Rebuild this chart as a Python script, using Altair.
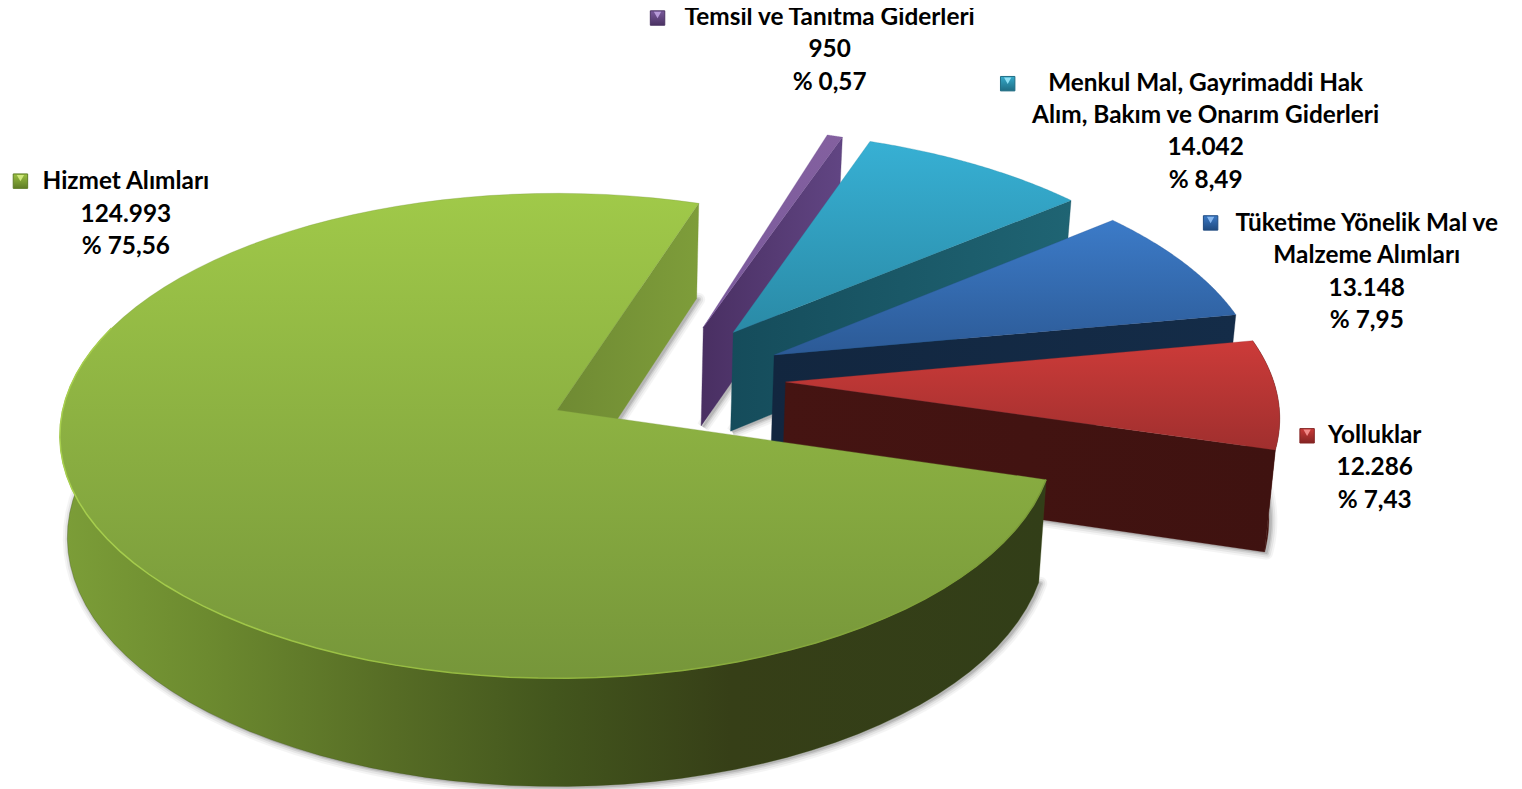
import math
import altair as alt
import pandas as pd

# ---- data (pie order, clockwise from the rotated start) ----
categories = ["Temsil ve Tanıtma Giderleri", "Menkul Mal, Gayrimaddi Hak Alım, Bakım ve Onarım Giderleri",
              "Tüketime Yönelik Mal ve Malzeme Alımları", "Yolluklar", "Hizmet Alımları"]
values = [950, 14042, 13148, 12286, 124993]
value_labels = ["950", "14.042", "13.148", "12.286", "124.993"]
percent_labels = ["% 0,57", "% 8,49", "% 7,95", "% 7,43", "% 75,56"]
label_lines = [
    ["Temsil ve Tanıtma Giderleri"],
    ["Menkul Mal, Gayrimaddi Hak", "Alım, Bakım ve Onarım Giderleri"],
    ["Tüketime Yönelik Mal ve", "Malzeme Alımları"],
    ["Yolluklar"],
    ["Hizmet Alımları"],
]

# ---- style / layout ----
explode = [(0.307, -0.358), (0.369, -0.335), (0.45, -0.235), (0.468, -0.118), (0.0, 0.0)]
top_colors = [("#83609f", "#7a5a9c"), ("#37b0d4", "#2a8aa6"), ("#3c7bc8", "#2c5a96"),
              ("#cc3b39", "#a02f2e"), ("#a0c949", "#76963a")]
wall_colors = [("#492f62", "#614583"), ("#154c5b", "#1f6473"), ("#12263f", "#142c48"),
               ("#451412", "#3f1210"), ("#6f8a33", "#7e9d3a")]
key_colors = [("#7a5a9c", "#4b3263", "#b79ad8"), ("#35a9c9", "#1f6d84", "#8fe0f4"),
              ("#3a78c4", "#1f4a80", "#86b6ee"), ("#c93a38", "#842423", "#f08a88"),
              ("#9ac040", "#5f7d26", "#cfe87c")]
label_pos = [(834, 16), (1212, 82), (1374, 223), (1382, 436), (126.5, 181)]
key_pos = [(661, 16), (1013, 82), (1217, 222), (1314, 436), (20.5, 180)]
START_DEG = 18.4
CX, CY, C, A, B = 560.0, 410.0, 497.0, 241.0, 0.1066
W, H = 1514, 781
FONT = "Lato"
FS = 24.5
LH = 32.6

xs = alt.X("x:Q", axis=None, scale=alt.Scale(domain=[8, 8 + W], nice=False, zero=False))
ys = alt.Y("y:Q", axis=None, scale=alt.Scale(domain=[8 + H, 8], nice=False, zero=False))


def project(px, py, z=0):
    w = 1 - B * py
    sx = CX + C * px / w * (1 - 0.015 * z)
    sy = CY + A * py / w + z * 101.5 * w ** -0.62
    return round(sx, 2), round(sy, 2)


def arc(ex, a0, a1, z, n=90):
    pts = []
    for k in range(n + 1):
        t = math.radians(a0 + (a1 - a0) * k / n)
        pts.append(project(ex[0] + math.sin(t), ex[1] - math.cos(t), z))
    return pts


def grad(c0, c1, vertical=True):
    return alt.Gradient(gradient="linear", x1=0, y1=0, x2=0 if vertical else 1, y2=1 if vertical else 0,
                        stops=[alt.GradientStop(color=c0, offset=0), alt.GradientStop(color=c1, offset=1)])


def multi(stops):
    return alt.Gradient(gradient="linear", x1=0, y1=0, x2=1, y2=0,
                        stops=[alt.GradientStop(color=c, offset=o) for o, c in stops])


def poly(pts, **mark):
    pts = list(pts) + [pts[0]]
    df = pd.DataFrame({"i": range(len(pts)), "x": [p[0] for p in pts], "y": [p[1] for p in pts]})
    return alt.Chart(df).mark_line(**mark).encode(x=xs, y=ys, order="i:Q")


total = sum(values)
spans = []
acc = START_DEG
for v in values:
    spans.append((acc, acc + v / total * 360))
    acc += v / total * 360

layers = []

# soft base shadows
for ex, (a0, a1) in zip(explode, spans):
    bottom = [project(ex[0], ex[1], 1)] + arc(ex, a0, a1, 1)
    bottom = [(x + 2, y + 1) for x, y in bottom]
    for sw, op in [(13, 0.06), (9, 0.09), (5, 0.14), (2, 0.2)]:
        layers.append(poly(bottom, fill="#555555", stroke="#555555", strokeWidth=sw, opacity=op,
                           strokeJoin="round"))

# slices, back to front
for idx, (ex, (a0, a1)) in enumerate(zip(explode, spans)):
    apex_t, apex_b = project(ex[0], ex[1], 0), project(ex[0], ex[1], 1)
    top = arc(ex, a0, a1, 0)
    low = arc(ex, a0, a1, 1)
    if idx == 4:
        # edge wall at the end of the big slice, visible from the right
        layers.append(poly([apex_t, top[-1], low[-1], apex_b],
                           fill=grad(*wall_colors[idx], vertical=False), stroke="#7a9a38", strokeWidth=0.3))
        # outer rim
        rim_s = 0
        rim_e = 62
        layers.append(poly(top[rim_s:rim_e] + low[rim_s:rim_e][::-1],
                           fill=multi([(0, "#32401a"), (0.25, "#333d17"), (0.47, "#3f5019"),
                                       (0.66, "#55691f"), (0.85, "#6c8a2f"), (1, "#7c9e38")][::1]
                                      if False else
                                      [(0, "#7c9e38"), (0.15, "#6c8a2f"), (0.34, "#566c25"),
                                       (0.5, "#43561d"), (0.68, "#363f17"), (1, "#323e18")]),
                           stroke="#3a4a18", strokeWidth=0.3))
    else:
        if idx == 3:
            layers.append(poly(top + low[::-1], fill="#43130f", stroke="#43130f", strokeWidth=0.3))
        # edge wall at the clockwise end of the slice
        layers.append(poly([apex_t, top[-1], low[-1], apex_b],
                           fill=grad(*wall_colors[idx], vertical=False),
                           stroke=wall_colors[idx][0], strokeWidth=0.3))
    layers.append(poly([apex_t] + top, fill=grad(*top_colors[idx]), stroke=top_colors[idx][1], strokeWidth=0.3))
    if idx == 4:
        layers.append(poly(top[:62][::1], fill="transparent",
                           stroke=multi([(0, "#7b9a38"), (0.5, "#84a53a"), (1, "#a6cf4c")]),
                           strokeWidth=1.6) if False else
                      alt.Chart(pd.DataFrame({"i": range(62), "x": [p[0] for p in top[:62]],
                                              "y": [p[1] for p in top[:62]]})).mark_line(
                          stroke=multi([(0, "#a8d04e"), (0.45, "#93b83f"), (1, "#7a9a38")]),
                          strokeWidth=1.5).encode(x=xs, y=ys, order="i:Q"))

# labels
text_rows = []
for lines, val, pct, (lx, ly) in zip(label_lines, value_labels, percent_labels, label_pos):
    for k, t in enumerate(list(lines) + [val, pct]):
        text_rows.append({"x": lx, "y": ly + k * LH, "t": t})
layers.append(alt.Chart(pd.DataFrame(text_rows)).mark_text(
    font=FONT, fontSize=FS, fontWeight="bold", color="#000000", align="center", baseline="middle"
).encode(x=xs, y=ys, text="t:N"))

# legend keys
for (kx, ky), (c0, c1, c2) in zip(key_pos, key_colors):
    df = pd.DataFrame({"x": [kx], "y": [ky]})
    layers.append(alt.Chart(df).mark_square(size=210, fill=grad(c0, c1), stroke=c1, strokeWidth=1, opacity=1)
                  .encode(x=xs, y=ys))
    layers.append(alt.Chart(df).mark_point(shape="triangle-down", filled=True, fill=c2, size=55,
                                           yOffset=-3, opacity=1)
                  .encode(x=xs, y=ys))

chart = alt.layer(*layers).properties(
    width=W, height=H, padding=0, autosize=alt.AutoSizeParams(type="none"), background="white"
).configure_view(stroke=None)

chart.save("out.html", embed_options={"renderer": "svg", "actions": False})
